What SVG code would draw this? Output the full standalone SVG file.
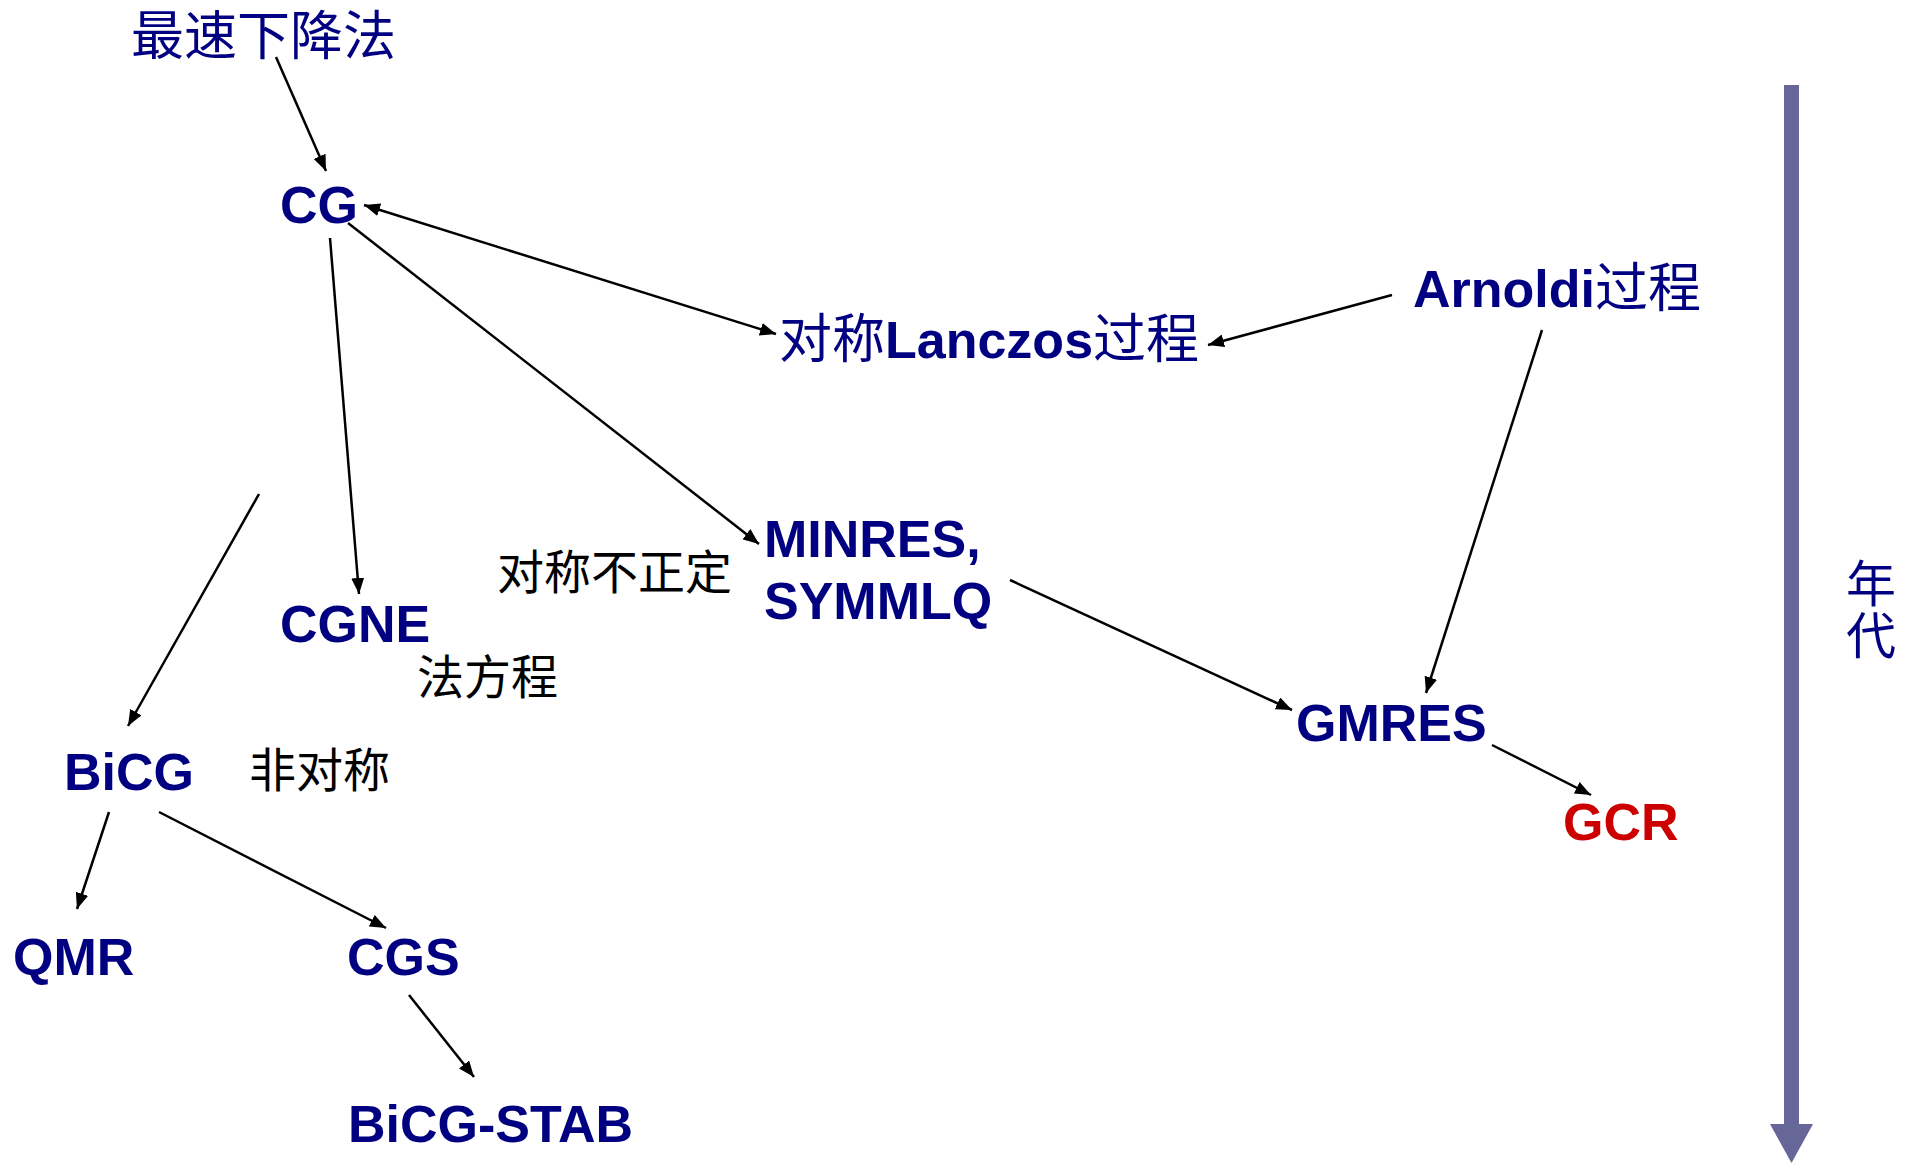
<svg xmlns="http://www.w3.org/2000/svg" width="1914" height="1163" viewBox="0 0 1914 1163">
<style>
.b{font-family:"Liberation Sans",Arial,sans-serif;font-weight:bold;font-size:52px;fill:#000080}
.cj{font-family:"Noto Sans CJK SC",sans-serif;font-weight:normal;fill:#000080}
.k{font-family:"Noto Sans CJK SC",sans-serif;font-size:47px;fill:#000000}
.red{fill:#CC0000}
.ln{stroke:#000;stroke-width:2.5;fill:none}
</style>
<defs>
<marker id="ah" markerUnits="userSpaceOnUse" markerWidth="16" markerHeight="13" viewBox="0 0 16 13" refX="16" refY="6.5" orient="auto-start-reverse">
<path d="M0,0 L16,6.5 L0,13 z" fill="#000"/>
</marker>
</defs>
<rect width="1914" height="1163" fill="#fff"/>
<g id="connectors">
<line class="ln" x1="276" y1="57" x2="326" y2="171" marker-end="url(#ah)"/>
<line class="ln" x1="364" y1="205" x2="776" y2="334" marker-start="url(#ah)" marker-end="url(#ah)"/>
<line class="ln" x1="1392" y1="295" x2="1208" y2="345" marker-end="url(#ah)"/>
<line class="ln" x1="1542" y1="330" x2="1426" y2="693" marker-end="url(#ah)"/>
<line class="ln" x1="330" y1="238" x2="359" y2="594" marker-end="url(#ah)"/>
<line class="ln" x1="348" y1="223" x2="759" y2="544" marker-end="url(#ah)"/>
<line class="ln" x1="259" y1="494" x2="128" y2="726" marker-end="url(#ah)"/>
<line class="ln" x1="109" y1="812" x2="77" y2="909" marker-end="url(#ah)"/>
<line class="ln" x1="159" y1="812" x2="386" y2="928" marker-end="url(#ah)"/>
<line class="ln" x1="409" y1="995" x2="474" y2="1077" marker-end="url(#ah)"/>
<line class="ln" x1="1010" y1="580" x2="1292" y2="710" marker-end="url(#ah)"/>
<line class="ln" x1="1492" y1="745" x2="1591" y2="795" marker-end="url(#ah)"/>
</g>
<g id="sd"><text class="cj" x="131" y="55" font-size="53">最速下降法</text></g>
<g id="cg"><text class="b" x="280" y="223">CG</text></g>
<g id="lanczos"><text x="779" y="358"><tspan class="cj" font-size="53">对称</tspan><tspan class="b">Lanczos</tspan><tspan class="cj" font-size="53">过程</tspan></text></g>
<g id="arnoldi"><text x="1413" y="307"><tspan class="b">Arnoldi</tspan><tspan class="cj" font-size="53">过程</tspan></text></g>
<g id="minres"><text class="b" x="764" y="557">MINRES,</text><text class="b" x="764" y="619">SYMMLQ</text></g>
<g id="lbl-sym"><text class="k" x="497" y="589">对称不正定</text></g>
<g id="cgne"><text class="b" x="280" y="642">CGNE</text></g>
<g id="lbl-normal"><text class="k" x="417" y="694">法方程</text></g>
<g id="bicg"><text class="b" x="64" y="790">BiCG</text></g>
<g id="lbl-nonsym"><text class="k" x="249" y="787">非对称</text></g>
<g id="qmr"><text class="b" x="13" y="975">QMR</text></g>
<g id="cgs"><text class="b" x="347" y="975">CGS</text></g>
<g id="bicgstab"><text class="b" x="348" y="1142">BiCG-STAB</text></g>
<g id="gmres"><text class="b" x="1296" y="741">GMRES</text></g>
<g id="gcr"><text class="b red" x="1563" y="840">GCR</text></g>
<g id="timeline">
<rect x="1784" y="85" width="15" height="1040" fill="#666699"/>
<polygon points="1770,1124 1813,1124 1791.5,1163" fill="#666699"/>
<text class="cj" x="1871" y="558" font-size="50" writing-mode="tb" letter-spacing="2">年代</text>
</g>
</svg>
